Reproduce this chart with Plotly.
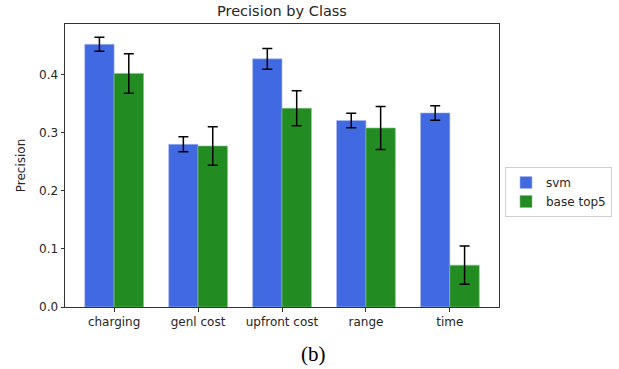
import plotly.graph_objects as go

categories = ["charging", "genl cost", "upfront cost", "range", "time"]
svm_vals = [0.452, 0.280, 0.427, 0.321, 0.334]
svm_err = [0.012, 0.013, 0.018, 0.0125, 0.0125]
base_vals = [0.402, 0.277, 0.342, 0.308, 0.072]
base_err = [0.034, 0.033, 0.030, 0.037, 0.033]
y_ticks = [0.0, 0.1, 0.2, 0.3, 0.4]
y_ticklabels = ["0.0", "0.1", "0.2", "0.3", "0.4"]

font = "DejaVu Sans"
xs = list(range(len(categories)))

W, H = 619, 369
L, R, T, B = 65, 120, 24, 62
pw, ph = W - L - R, H - T - B

fig = go.Figure()
fig.add_trace(go.Bar(
    x=xs, y=svm_vals, name="svm",
    marker=dict(color="royalblue", line=dict(color="#a9b9ee", width=0.6)),
    error_y=dict(type="data", array=svm_err, color="black", thickness=1.5, width=5),
))
fig.add_trace(go.Bar(
    x=xs, y=base_vals, name="base top5",
    marker=dict(color="forestgreen", line=dict(color="#7fbf7f", width=0.6)),
    error_y=dict(type="data", array=base_err, color="black", thickness=1.5, width=5),
))

fig.update_layout(
    width=W, height=H,
    margin=dict(l=L, r=R, t=T, b=B, autoexpand=False),
    barmode="group", bargap=0.3, bargroupgap=0,
    plot_bgcolor="white", paper_bgcolor="white",
    font=dict(family=font, size=12, color="#262626"),
    title=dict(text="Precision by Class", x=282 / W, xanchor="center",
               y=1 - 11 / H, yanchor="middle",
               font=dict(family=font, size=14.5, color="#262626")),
    showlegend=True,
    legend=dict(x=(505 - L) / pw, xanchor="left", y=1 - (192 - T) / ph, yanchor="middle",
                bordercolor="#d0d0d0", borderwidth=1, bgcolor="white",
                font=dict(family=font, size=12, color="#262626"),
                itemwidth=30, tracegroupgap=0),
    xaxis=dict(
        range=[-0.585, 4.585], tickmode="array", tickvals=xs, ticktext=categories,
        showline=True, linecolor="#333333", linewidth=1, mirror=True,
        ticks="outside", ticklen=3.5, tickcolor="#333333", showgrid=False, zeroline=False,
    ),
    yaxis=dict(
        range=[0, 0.487], tickmode="array", tickvals=y_ticks, ticktext=y_ticklabels,
        showline=True, linecolor="#333333", linewidth=1, mirror=True,
        ticks="outside", ticklen=3.5, tickcolor="#333333", showgrid=False, zeroline=False,
        title=dict(text="Precision", standoff=10, font=dict(family=font, size=12)),
    ),
    annotations=[dict(
        text="(b)", xref="paper", yref="paper", x=(313 - L) / pw, y=(T + ph - 354) / ph,
        xanchor="center", yanchor="middle", showarrow=False,
        font=dict(family="Liberation Serif", size=21, color="black"),
    )],
)

fig.write_html("out.html", post_script="document.body.style.margin='0';",
               config={"displayModeBar": False})
